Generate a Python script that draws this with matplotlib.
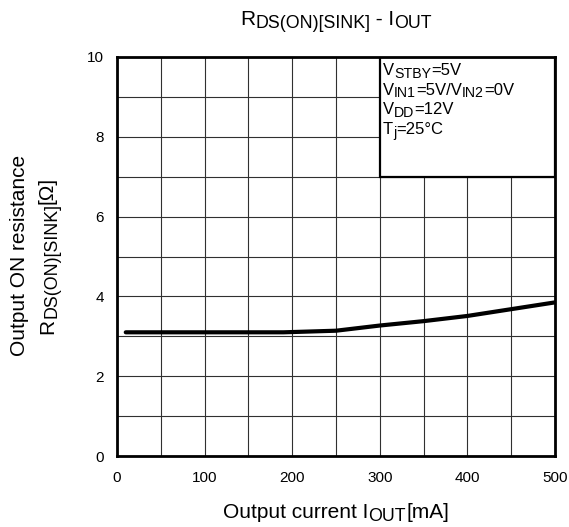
import matplotlib
matplotlib.use("Agg")
import matplotlib.pyplot as plt
from matplotlib.patches import Rectangle
from matplotlib.transforms import IdentityTransform

plt.rcParams['font.family'] = ['Liberation Sans', 'DejaVu Sans']

iout = [10, 100, 190, 250, 300, 350, 400, 450, 500]
rds = [3.1, 3.1, 3.1, 3.14, 3.27, 3.38, 3.51, 3.68, 3.85]
xticks = [0, 100, 200, 300, 400, 500]
yticks = [0, 2, 4, 6, 8, 10]
title_parts = [('R', False), ('DS(ON)[SINK]', True), (' - I', False), ('OUT', True)]
xlabel_parts = [('Output current I', False), ('OUT', True), ('[mA]', False)]
ylabel1_parts = [('Output ON resistance', False)]
ylabel2_parts = [('R', False), ('DS(ON)[SINK]', True), ('[Ω]', False)]
conditions = [
    [('V', False), ('STBY', True), ('=5V', False)],
    [('V', False), ('IN1', True), ('=5V/V', False), ('IN2', True), ('=0V', False)],
    [('V', False), ('DD', True), ('=12V', False)],
    [('T', False), ('j', True), ('=25°C', False)],
]

W, H = 569, 527
fig = plt.figure(figsize=(W / 100, H / 100), dpi=100)
renderer = fig.canvas.get_renderer()


def rich(x_px, y_px, pieces, size, ha='left', rot=0, sub_scale=0.85, sub_drop=0.15):
    """x_px, y_px from top-left. For rot=0: y_px = baseline, x_px = left/center.
    For rot=90: x_px = baseline, y_px = center/start along text."""
    sizes, widths = [], []
    for s, sub in pieces:
        fs = size * sub_scale if sub else size
        t = fig.text(0, 0, s, fontsize=fs, transform=IdentityTransform())
        widths.append(t.get_window_extent(renderer).width)
        t.remove()
        sizes.append(fs)
    total = sum(widths)
    pos = -total / 2 if ha == 'center' else 0.0
    for (s, sub), fs, w in zip(pieces, sizes, widths):
        drop = sub_drop * size * 100 / 72 if sub else 0.0
        if rot == 0:
            px, py = x_px + pos, (H - y_px) - drop
        else:
            px, py = x_px + drop, (H - y_px) + pos
        fig.text(px, py, s, fontsize=fs, rotation=rot, rotation_mode='anchor',
                 ha='left', va='baseline', transform=IdentityTransform())
        pos += w


ax = fig.add_axes([117 / W, 1 - 456 / H, 438 / W, 399 / H])
ax.set_xlim(0, 500)
ax.set_ylim(0, 10)
ax.set_xticks(xticks)
ax.set_xticks(range(50, 500, 100), minor=True)
ax.set_yticks(yticks)
ax.set_yticks(range(1, 10, 2), minor=True)
ax.tick_params(which='both', length=0, labelsize=11)
ax.tick_params(axis='x', pad=11)
ax.tick_params(axis='y', pad=9.5)
ax.grid(True, which='both', color='#303030', linewidth=0.8)
ax.set_axisbelow(True)
for s in ax.spines.values():
    s.set_linewidth(2)
    s.set_zorder(5)

ax.plot(iout, rds, color='black', linewidth=3, solid_capstyle='round', zorder=4)

ax.add_patch(Rectangle((300, 7), 200, 3, facecolor='white', edgecolor='black',
                       linewidth=1.6, zorder=3))

for i, parts in enumerate(conditions):
    rich(383, 75 + i * 19.7, parts, 12)

rich(336, 25, title_parts, 15, ha='center')
rich(336, 518, xlabel_parts, 15, ha='center')
rich(25, 255, ylabel1_parts, 15, ha='center', rot=90)
rich(53, 255, ylabel2_parts, 15, ha='center', rot=90)

fig.savefig('out.png', dpi=100)
